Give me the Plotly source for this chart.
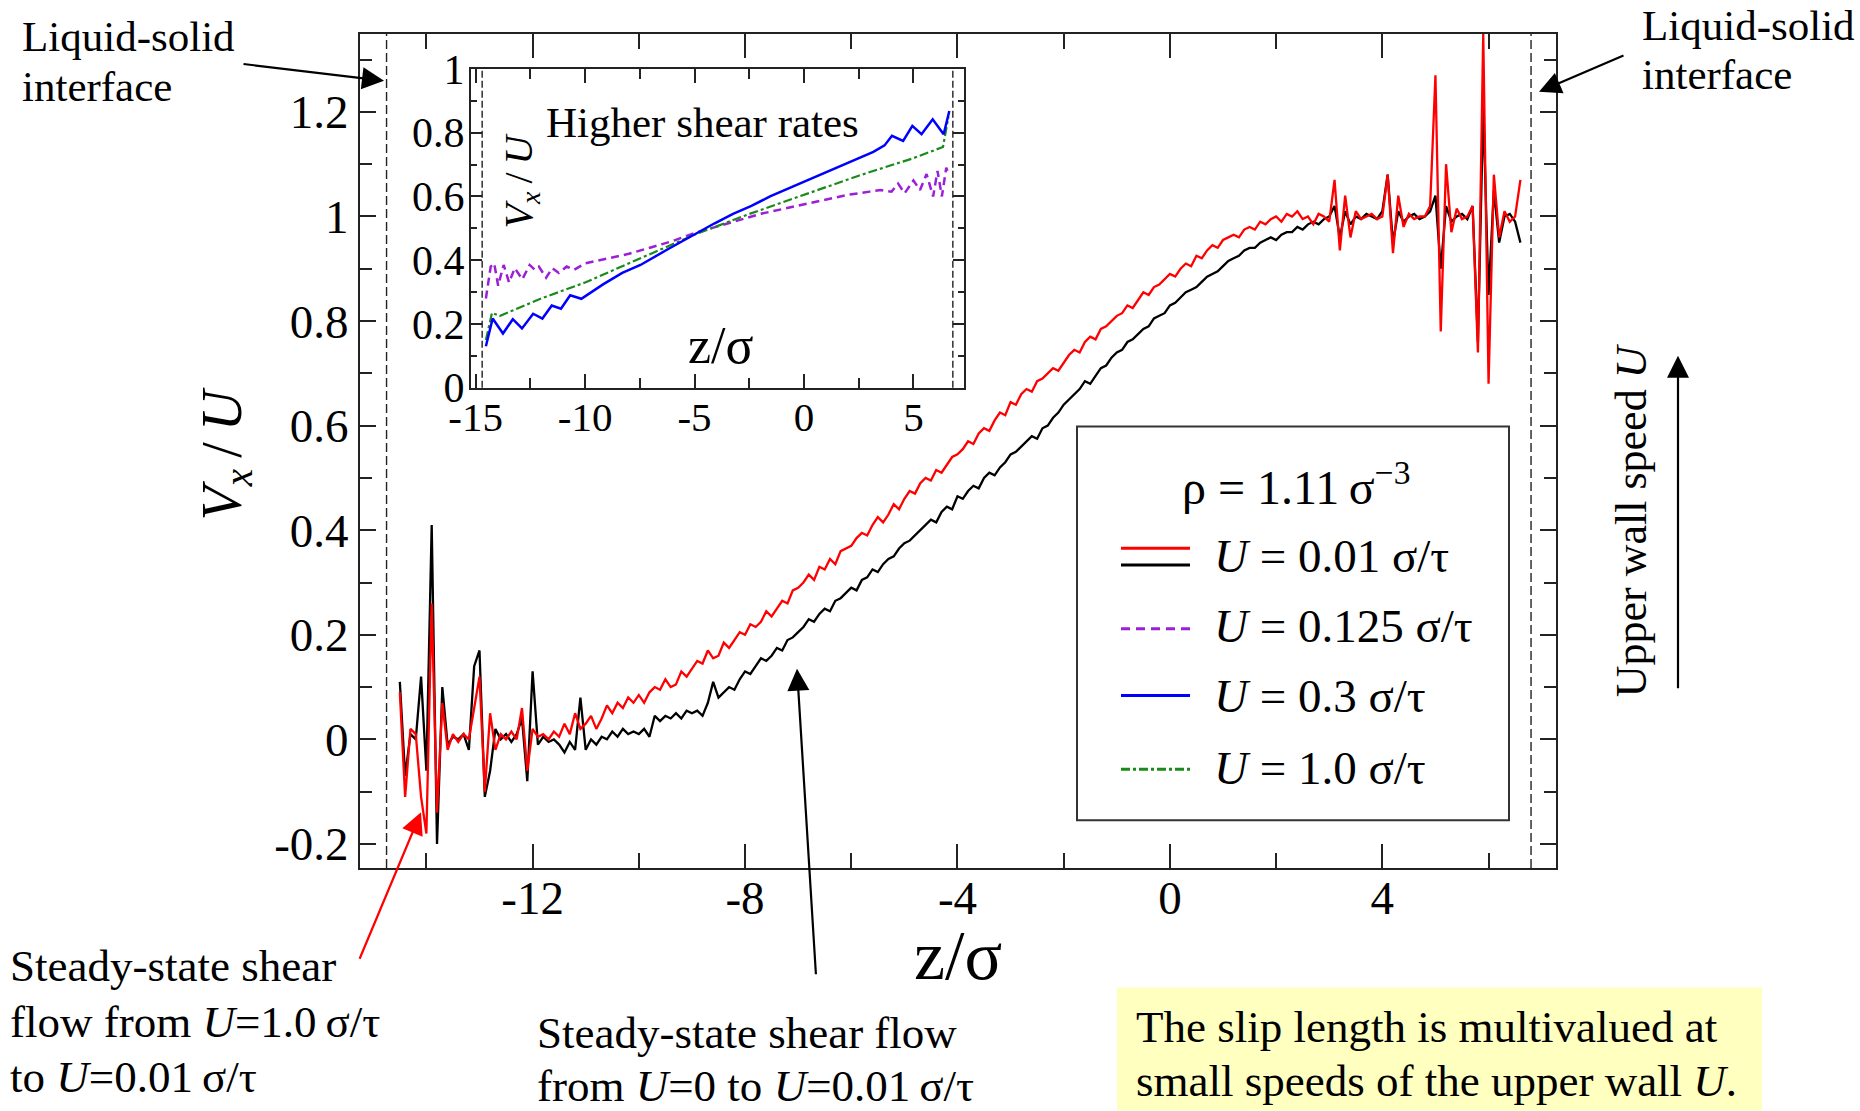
import plotly.graph_objects as go

# ---------------- data ----------------
Z_START, Z_STEP = -14.5, 0.1   # sampling grid of the two U=0.01 profiles

red_vx = [
    0.09, -0.11, 0.02, 0.01, -0.11,
    -0.18, 0.26, -0.14, 0.07, -0.02, 0.01, -0.005, 0.01, 0.0, 0.06,
    0.12, -0.10, 0.05, -0.02, 0.01, 0.0, 0.015, 0.0, 0.06, -0.06,
    0.02, 0.005, 0.01, 0.0, 0.015, 0.005, 0.03, 0.01, 0.05, 0.02,
    0.03, 0.045, 0.02, 0.04, 0.065, 0.05, 0.07, 0.06, 0.08, 0.07,
    0.085, 0.07, 0.09, 0.10, 0.095, 0.115, 0.10, 0.105, 0.13, 0.12,
    0.135, 0.15, 0.145, 0.17, 0.155, 0.16, 0.185, 0.175, 0.19, 0.205,
    0.20, 0.22, 0.215, 0.225, 0.245, 0.235, 0.25, 0.265, 0.26, 0.285,
    0.29, 0.30, 0.315, 0.305, 0.33, 0.325, 0.345, 0.335, 0.36, 0.365,
    0.37, 0.385, 0.395, 0.39, 0.41, 0.425, 0.415, 0.43, 0.45, 0.44,
    0.46, 0.475, 0.47, 0.49, 0.50, 0.495, 0.515, 0.51, 0.525, 0.54,
    0.545, 0.555, 0.57, 0.565, 0.585, 0.595, 0.59, 0.61, 0.625, 0.62,
    0.645, 0.64, 0.66, 0.67, 0.665, 0.685, 0.69, 0.70, 0.71, 0.705,
    0.72, 0.735, 0.745, 0.74, 0.76, 0.77, 0.765, 0.785, 0.79, 0.80,
    0.81, 0.815, 0.83, 0.825, 0.84, 0.855, 0.85, 0.865, 0.87, 0.88,
    0.89, 0.885, 0.90, 0.91, 0.905, 0.925, 0.92, 0.935, 0.945, 0.94,
    0.955, 0.96, 0.965, 0.96, 0.975, 0.98, 0.975, 0.99, 0.985, 0.995,
    1.0, 0.99, 1.005, 1.0, 1.01, 0.995, 1.0, 0.985, 1.005, 1.0,
    0.99, 1.07, 0.935, 1.04, 0.96, 1.01, 0.995, 1.0, 1.005, 0.995,
    1.0, 1.08, 0.93, 1.04, 0.98, 1.005, 0.995, 1.0, 1.0, 1.02,
    1.27, 0.78, 1.10, 0.97, 1.015, 0.995, 1.0, 1.02, 0.74, 1.35,
    0.68, 1.08, 0.96, 1.01, 0.99, 1.0, 1.07,
]

black_vx = [
    0.11, -0.07, 0.01, 0.0, 0.12,
    -0.06, 0.41, -0.20, 0.10, -0.01, 0.005, 0.0, 0.01, -0.02, 0.14,
    0.17, -0.11, -0.06, 0.02, 0.0, 0.01, -0.005, 0.01, 0.04, -0.08,
    0.13, -0.01, 0.005, -0.005, 0.0, -0.01, -0.025, -0.005, -0.02, 0.08,
    -0.02, 0.0, -0.01, 0.005, 0.0, 0.015, 0.005, 0.02, 0.01, 0.015,
    0.01, 0.02, 0.005, 0.045, 0.035, 0.045, 0.04, 0.05, 0.04, 0.055,
    0.05, 0.055, 0.045, 0.07, 0.11, 0.08, 0.09, 0.10, 0.095, 0.115,
    0.13, 0.125, 0.14, 0.155, 0.15, 0.16, 0.175, 0.17, 0.19, 0.195,
    0.205, 0.215, 0.23, 0.225, 0.24, 0.25, 0.245, 0.265, 0.27, 0.28,
    0.29, 0.285, 0.305, 0.31, 0.325, 0.32, 0.335, 0.345, 0.35, 0.365,
    0.375, 0.38, 0.39, 0.40, 0.41, 0.42, 0.415, 0.435, 0.445, 0.44,
    0.465, 0.46, 0.475, 0.485, 0.48, 0.50, 0.51, 0.505, 0.52, 0.53,
    0.545, 0.55, 0.56, 0.57, 0.58, 0.575, 0.595, 0.60, 0.615, 0.625,
    0.64, 0.65, 0.66, 0.67, 0.685, 0.68, 0.695, 0.71, 0.715, 0.73,
    0.74, 0.745, 0.76, 0.765, 0.775, 0.785, 0.79, 0.805, 0.81, 0.815,
    0.83, 0.835, 0.845, 0.855, 0.86, 0.865, 0.875, 0.885, 0.89, 0.895,
    0.905, 0.915, 0.92, 0.925, 0.935, 0.94, 0.94, 0.95, 0.955, 0.96,
    0.955, 0.965, 0.97, 0.97, 0.98, 0.975, 0.985, 0.99, 0.985, 0.995,
    1.0, 1.02, 0.96, 1.01, 0.985, 1.0, 0.995, 1.005, 1.0, 0.995,
    1.01, 1.08, 0.95, 1.01, 0.99, 1.0, 1.005, 0.995, 1.0, 1.01,
    1.04, 0.90, 1.02, 0.99, 1.0, 1.005, 0.995, 1.02, 0.76, 1.21,
    0.85, 1.05, 0.95, 1.0, 1.005, 0.99, 0.95,
]

z_main = [round(Z_START + Z_STEP * i, 2) for i in range(len(red_vx))]

# inset: higher shear rates
purple_z = [-14.53, -14.31, -14.15, -13.97, -13.72, -13.47, -13.21, -12.87, -12.53, -12.3,
            -12.11, -11.78, -11.5, -11.2, -10.84, -10.5, -10.0, -9.0, -8.0, -7.0, -6.0,
            -5.0, -4.0, -3.0, -2.0, -1.0, 0.0, 1.0, 2.0, 3.0, 3.5, 4.0, 4.3, 4.6, 5.0,
            5.3, 5.6, 5.9, 6.1, 6.3, 6.5, 6.6]
purple_v = [0.28, 0.38, 0.39, 0.32, 0.385, 0.33, 0.375, 0.34, 0.385, 0.37,
            0.38, 0.345, 0.375, 0.36, 0.38, 0.37, 0.39, 0.405, 0.42, 0.44, 0.46,
            0.485, 0.505, 0.525, 0.545, 0.56, 0.575, 0.59, 0.605, 0.615, 0.62, 0.615, 0.64, 0.61, 0.65,
            0.62, 0.67, 0.60, 0.68, 0.60, 0.69, 0.67]

blue_z = [-14.53, -14.22, -13.75, -13.3, -12.88, -12.37, -11.95, -11.52, -11.1, -10.68,
          -10.17, -9.6, -9.16, -8.3, -7.47, -6.2, -4.93, -4.1, -3.24, -2.4, -1.55, -0.7,
          0.14, 1.0, 1.83, 2.5, 3.17, 3.68, 4.02, 4.53, 4.95, 5.37, 5.88, 6.38, 6.64]
blue_v = [0.13, 0.217, 0.17, 0.215, 0.186, 0.232, 0.217, 0.258, 0.248, 0.29,
          0.279, 0.305, 0.325, 0.36, 0.385, 0.435, 0.485, 0.515, 0.545, 0.57, 0.60, 0.625,
          0.65, 0.675, 0.70, 0.72, 0.74, 0.76, 0.79, 0.774, 0.821, 0.795, 0.842, 0.795, 0.868]

green_z = [-14.53, -14.25, -13.9, -12.0, -10.0, -7.5, -5.0, -2.5, 0.0, 2.5, 5.0, 6.35, 6.6]
green_v = [0.15, 0.235, 0.225, 0.28, 0.33, 0.405, 0.48, 0.545, 0.605, 0.665, 0.72, 0.755, 0.85]

WALL_LOW, WALL_HIGH = -14.75, 6.8        # liquid-solid interfaces (main)
WALL_LOW_IN, WALL_HIGH_IN = -14.7, 6.8   # liquid-solid interfaces (inset)

main_xticks = [-12, -8, -4, 0, 4]
main_xminor = [-14, -10, -6, -2, 2, 6]
main_yticks = [-0.2, 0, 0.2, 0.4, 0.6, 0.8, 1.0, 1.2]
main_ytext = ["-0.2", "0", "0.2", "0.4", "0.6", "0.8", "1", "1.2"]
main_yminor = [-0.1, 0.1, 0.3, 0.5, 0.7, 0.9, 1.1, 1.3]
in_xticks = [-15, -10, -5, 0, 5]
in_xminor = [-12.5, -7.5, -2.5, 2.5]
in_yticks = [0, 0.2, 0.4, 0.6, 0.8, 1.0]
in_ytext = ["0", "0.2", "0.4", "0.6", "0.8", "1"]
in_yminor = [0.1, 0.3, 0.5, 0.7, 0.9]

# ---------------- layout helpers ----------------
W, H = 1860, 1111
L, R, T, B = 360, 1556, 31, 868
FONT = "Liberation Serif"
AX = "#222222"


def px(x):
    return (x - L) / (R - L)


def py(y):
    return (B - y) / (B - T)


fig = go.Figure()

fig.add_trace(go.Scatter(x=z_main, y=black_vx, mode="lines",
                         line=dict(color="black", width=2.3), showlegend=False,
                         xaxis="x", yaxis="y"))
fig.add_trace(go.Scatter(x=z_main, y=red_vx, mode="lines",
                         line=dict(color="#ff0000", width=2.3), showlegend=False,
                         xaxis="x", yaxis="y"))

fig.add_trace(go.Scatter(x=purple_z, y=purple_v, mode="lines",
                         line=dict(color="#9a1fd6", width=2.5, dash="8px,5px"),
                         showlegend=False, xaxis="x2", yaxis="y2"))
fig.add_trace(go.Scatter(x=green_z, y=green_v, mode="lines",
                         line=dict(color="#1a8a1a", width=2.2, dash="dashdot"),
                         showlegend=False, xaxis="x2", yaxis="y2"))
fig.add_trace(go.Scatter(x=blue_z, y=blue_v, mode="lines",
                         line=dict(color="#0000ff", width=2.5),
                         showlegend=False, xaxis="x2", yaxis="y2"))


def axis(rng, tv, tt, minor, tlen, mlen, fsize, standoff, domain=None, anchor=None):
    d = dict(range=rng, tickmode="array", tickvals=tv, ticktext=tt,
             ticks="inside", ticklen=tlen, tickwidth=1.8, tickcolor=AX,
             showline=True, linewidth=2, linecolor=AX, mirror="ticks",
             showgrid=False, zeroline=False,
             tickfont=dict(family=FONT, size=fsize, color="black"),
             ticklabelstandoff=standoff,
             minor=dict(tickmode="array", tickvals=minor, ticks="inside",
                        ticklen=mlen, tickwidth=1.8, tickcolor=AX, showgrid=False))
    if domain is not None:
        d["domain"] = domain
    if anchor is not None:
        d["anchor"] = anchor
    return d


fig.update_layout(
    width=W, height=H,
    margin=dict(l=L, r=W - R, t=T, b=H - B),
    paper_bgcolor="white", plot_bgcolor="white",
    showlegend=False,
    xaxis=axis([-15.25, 7.27], main_xticks, [str(v) for v in main_xticks], main_xminor,
               24, 15, 47, -12, domain=[0, 1], anchor="y"),
    yaxis=axis([-0.246, 1.349], main_yticks, main_ytext, main_yminor,
               16, 12, 47, 0, domain=[0, 1], anchor="x"),
    xaxis2=axis([-15.21, 7.31], in_xticks, [str(v) for v in in_xticks], in_xminor,
                14, 10, 41, -8, domain=[px(471), px(964)], anchor="y2"),
    yaxis2=axis([0, 1], in_yticks, in_ytext, in_yminor,
                11, 6, 42, -4, domain=[py(386), py(66)], anchor="x2"),
)

shapes = []
for xv in (WALL_LOW, WALL_HIGH):
    shapes.append(dict(type="line", xref="x", yref="y domain", x0=xv, x1=xv, y0=0, y1=1,
                       line=dict(color="#222222", width=1.4, dash="9px,4px")))
for xv in (WALL_LOW_IN, WALL_HIGH_IN):
    shapes.append(dict(type="line", xref="x2", yref="y2 domain", x0=xv, x1=xv, y0=0, y1=1,
                       line=dict(color="#222222", width=1.4, dash="7px,3px")))

# legend box
shapes.append(dict(type="rect", xref="paper", yref="paper", x0=px(1077), x1=px(1509),
                   y0=py(820), y1=py(425), line=dict(color="#333333", width=2),
                   fillcolor="white", layer="above"))
leg_lines = [(547, "#ff0000", "solid"), (564, "black", "solid"),
             (628, "#9a1fd6", "9px,6px"), (695, "#0000ff", "solid"),
             (769, "#1a8a1a", "dashdot")]
for yy, col, ds in leg_lines:
    shapes.append(dict(type="line", xref="paper", yref="paper", x0=px(1121), x1=px(1190),
                       y0=py(yy), y1=py(yy), line=dict(color=col, width=3, dash=ds),
                       layer="above"))
# yellow note box
shapes.append(dict(type="rect", xref="paper", yref="paper", x0=px(1117), x1=px(1762),
                   y0=py(1111), y1=py(988), line=dict(width=0), fillcolor="#ffffc0",
                   layer="below"))
fig.update_layout(shapes=shapes)

ann = []


def text(s, x, y, size=45, xanchor="left", angle=0, yanchor="middle"):
    ann.append(dict(text=s, x=px(x), y=py(y), xref="paper", yref="paper",
                    xanchor=xanchor, yanchor=yanchor, showarrow=False, textangle=angle,
                    font=dict(family=FONT, size=size, color="black")))


def arrow(tail, tip, color="black"):
    ann.append(dict(text="", x=px(tip[0]), y=py(tip[1]), xref="paper", yref="paper",
                    ax=tail[0] - tip[0], ay=tail[1] - tip[1], showarrow=True,
                    arrowhead=2, arrowsize=2.0, arrowwidth=2.2, arrowcolor=color,
                    standoff=0))


NB = "\u00a0"
# corner labels
text("Liquid-solid", 20, 34, size=43)
text("interface", 20, 84, size=43)
text("Liquid-solid", 1640, 22, size=43)
text("interface", 1640, 72, size=43)
arrow((242, 61), (384, 78))
arrow((1625, 52), (1539, 89))

# upper wall speed
text("Upper wall speed <i>U</i>", 1631, 519, size=44, xanchor="center", angle=-90)
arrow((1678, 688), (1678, 354))

# axis titles
text("<i>V</i><sub><i>x</i></sub>\u2009/\u2009<i>U</i>", 226, 452, size=56, xanchor="center", angle=-90)
text("z/σ", 958, 956, size=70, xanchor="center")
# inset titles
text("Higher shear rates", 702, 120, size=43, xanchor="center")
text("<i>V</i><sub><i>x</i></sub>\u2009/\u2009<i>U</i>", 521, 178, size=40, xanchor="center", angle=-90)
text("z/σ", 721, 344, size=52, xanchor="center")

# legend texts
text("ρ" + NB + "=" + NB + "1.11\u2009σ<sup>−3</sup>", 1296, 483, size=48, xanchor="center")
text("<i>U</i>" + NB + "=" + NB + "0.01 σ/τ", 1212, 555, size=47)
text("<i>U</i>" + NB + "=" + NB + "0.125 σ/τ", 1212, 625, size=47)
text("<i>U</i>" + NB + "=" + NB + "0.3 σ/τ", 1212, 695, size=47)
text("<i>U</i>" + NB + "=" + NB + "1.0 σ/τ", 1212, 768, size=47)

# bottom annotations
text("Steady-state shear", 8, 966)
text("flow from <i>U</i>=1.0\u2009σ/τ", 8, 1023)
text("to <i>U</i>=0.01\u2009σ/τ", 8, 1078)
arrow((359, 960), (421, 812), color="#ff0000")

text("Steady-state shear flow", 535, 1034)
text("from <i>U</i>=0 to <i>U</i>=0.01\u2009σ/τ", 535, 1087)
arrow((816, 975), (797, 668))

text("The slip length is multivalued at", 1134, 1028)
text("small speeds of the upper wall <i>U</i>.", 1134, 1082)

fig.update_layout(annotations=ann)

fig.write_html("out.html")
